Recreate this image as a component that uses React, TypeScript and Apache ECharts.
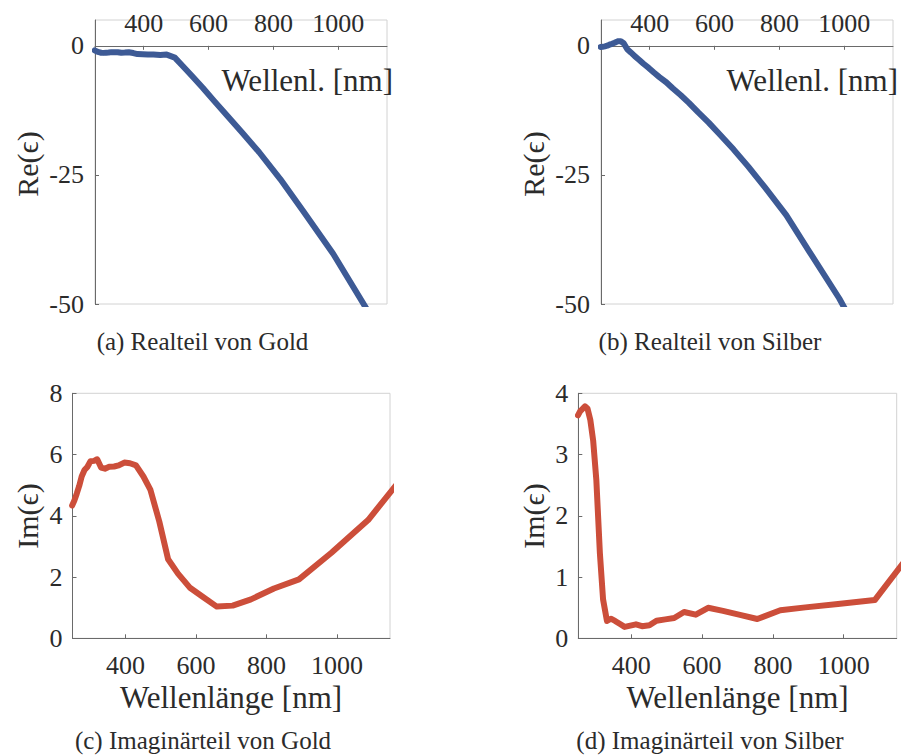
import React, { useEffect, useRef } from "react";
import * as echarts from "echarts";

// Wavelength in nm (Johnson & Christy sampling)
const WAVELENGTH = [249, 255, 262, 269, 276, 284, 292, 301, 311, 320, 331, 342, 354, 368, 381, 397, 413, 430, 451, 471, 496, 521, 549, 582, 617, 659, 704, 756, 821, 892, 984, 1088, 1216];

const GOLD_RE = [-0.891, -1.08, -1.237, -1.346, -1.367, -1.332, -1.307, -1.227, -1.243, -1.231, -1.355, -1.31, -1.232, -1.401, -1.605, -1.649, -1.702, -1.692, -1.759, -1.703, -2.278, -3.946, -5.842, -8.113, -10.662, -13.648, -16.818, -20.61, -25.811, -32.041, -40.274, -51.05, -66.219];
const GOLD_IM = [4.338, 4.49, 4.722, 4.976, 5.282, 5.495, 5.596, 5.78, 5.793, 5.846, 5.574, 5.538, 5.598, 5.609, 5.644, 5.739, 5.717, 5.649, 5.283, 4.844, 3.813, 2.58, 2.111, 1.661, 1.374, 1.035, 1.067, 1.272, 1.627, 1.925, 2.794, 3.861, 5.702];
const SILVER_RE = [-0.213, -0.172, -0.101, 0.022, 0.217, 0.39, 0.584, 0.866, 0.897, 0.502, -0.658, -1.285, -2.004, -2.741, -3.472, -4.282, -5.173, -6.06, -7.058, -8.229, -9.564, -11.047, -12.856, -14.882, -17.236, -20.095, -23.405, -27.478, -32.797, -39.84, -48.887, -60.76, -77.926];
const SILVER_IM = [3.639, 3.705, 3.745, 3.787, 3.753, 3.564, 3.228, 2.584, 1.392, 0.635, 0.282, 0.32, 0.284, 0.232, 0.186, 0.207, 0.228, 0.197, 0.213, 0.287, 0.309, 0.332, 0.43, 0.386, 0.498, 0.448, 0.387, 0.315, 0.458, 0.505, 0.559, 0.624, 1.589];

const X_TICKS = [400, 600, 800, 1000];
const RE_TICKS = [-50, -25, 0];
const IM_GOLD_TICKS = [0, 2, 4, 6, 8];
const IM_SILVER_TICKS = [0, 1, 2, 3, 4];

const X_TITLE_SHORT = "Wellenl. [nm]";
const X_TITLE_LONG = "Wellenlänge [nm]";
const Y_TITLE_RE = "Re(ϵ)";
const Y_TITLE_IM = "Im(ϵ)";
const CAPTIONS = [
  "(a) Realteil von Gold",
  "(b) Realteil von Silber",
  "(c) Imaginärteil von Gold",
  "(d) Imaginärteil von Silber",
];

const FONT = "'Liberation Serif', 'DejaVu Serif', serif";
const TEXT_COLOR = "#2b2b2b";
const AXIS_COLOR = "#6a6a6a";
const BLUE = "#3d5a95";
const RED = "#cc4e3a";

const GRIDS = [
  { left: 95, top: 20, width: 292, height: 284 },
  { left: 601, top: 20, width: 292, height: 284 },
  { left: 72.5, top: 393.3, width: 317.5, height: 245 },
  { left: 578.3, top: 393.3, width: 318.4, height: 245 },
];

const fmt = (v: number) => String(v);

function xAxis(gridIndex: number, top: boolean) {
  return {
    type: "value",
    gridIndex,
    min: 250,
    max: 1150,
    position: top ? "top" : "bottom",
    axisLine: { show: true, onZero: top, lineStyle: { color: AXIS_COLOR, width: 1 } },
    axisTick: { show: true, inside: true, length: 4, customValues: X_TICKS, lineStyle: { color: AXIS_COLOR } },
    axisLabel: { customValues: X_TICKS, formatter: fmt, margin: top ? -16 : 14, fontFamily: FONT, fontSize: 26, color: TEXT_COLOR },
    splitLine: { show: false },
  };
}

function yAxis(gridIndex: number, min: number, max: number, ticks: number[], margin: number) {
  return {
    type: "value",
    gridIndex,
    min,
    max,
    position: "left",
    axisLine: { show: true, onZero: false, lineStyle: { color: AXIS_COLOR, width: 1 } },
    axisTick: { show: true, inside: true, length: 4, customValues: ticks, lineStyle: { color: AXIS_COLOR } },
    axisLabel: { customValues: ticks, formatter: fmt, margin, fontFamily: FONT, fontSize: 26, color: TEXT_COLOR },
    splitLine: { show: false },
  };
}

function lineSeries(i: number, values: number[], color: string) {
  return {
    type: "line",
    xAxisIndex: i,
    yAxisIndex: i,
    data: WAVELENGTH.map((w, k) => [w, values[k]]),
    showSymbol: false,
    clip: true,
    lineStyle: { width: 6, color, join: "round", cap: "round" },
    itemStyle: { color },
  };
}

function txt(text: string, x: number, y: number, size: number, align: string, rot = 0) {
  return {
    type: "text",
    x,
    y,
    rotation: rot,
    style: { text, fontFamily: FONT, fontSize: size, fill: TEXT_COLOR, align, verticalAlign: "middle" },
  };
}

export default function App() {
  const ref = useRef<HTMLDivElement>(null);
  useEffect(() => {
    if (!ref.current) return;
    const chart = echarts.init(ref.current, null, { renderer: "svg" });
    chart.setOption({
      animation: false,
      backgroundColor: "#ffffff",
      grid: GRIDS.map((g) => ({
        ...g,
        show: true,
        borderColor: "#d2d2d2",
        borderWidth: 1,
        backgroundColor: "transparent",
        containLabel: false,
        outerBoundsMode: "none",
      })),
      xAxis: [xAxis(0, true), xAxis(1, true), xAxis(2, false), xAxis(3, false)],
      yAxis: [
        yAxis(0, -50, 5, RE_TICKS, 11),
        yAxis(1, -50, 5, RE_TICKS, 11),
        yAxis(2, 0, 8, IM_GOLD_TICKS, 10),
        yAxis(3, 0, 4, IM_SILVER_TICKS, 10),
      ],
      series: [
        lineSeries(0, GOLD_RE, BLUE),
        lineSeries(1, SILVER_RE, BLUE),
        lineSeries(2, GOLD_IM, RED),
        lineSeries(3, SILVER_IM, RED),
      ],
      graphic: [
        txt(Y_TITLE_RE, 27.5, 164, 30, "center", Math.PI / 2),
        txt(Y_TITLE_RE, 533, 164, 30, "center", Math.PI / 2),
        txt(Y_TITLE_IM, 27.5, 516, 30, "center", Math.PI / 2),
        txt(Y_TITLE_IM, 533, 516, 30, "center", Math.PI / 2),
        txt(X_TITLE_SHORT, 393, 80, 31, "right"),
        txt(X_TITLE_SHORT, 898, 80, 31, "right"),
        txt(X_TITLE_LONG, 231, 697, 31, "center"),
        txt(X_TITLE_LONG, 737.5, 697, 31, "center"),
        txt(CAPTIONS[0], 202.5, 341, 25, "center"),
        txt(CAPTIONS[1], 710, 341, 25, "center"),
        txt(CAPTIONS[2], 203, 740, 25, "center"),
        txt(CAPTIONS[3], 710, 740, 25, "center"),
      ],
    });
    return () => chart.dispose();
  }, []);
  return <div ref={ref} style={{ position: "fixed", left: 0, top: 0, width: 905, height: 756 }} />;
}
